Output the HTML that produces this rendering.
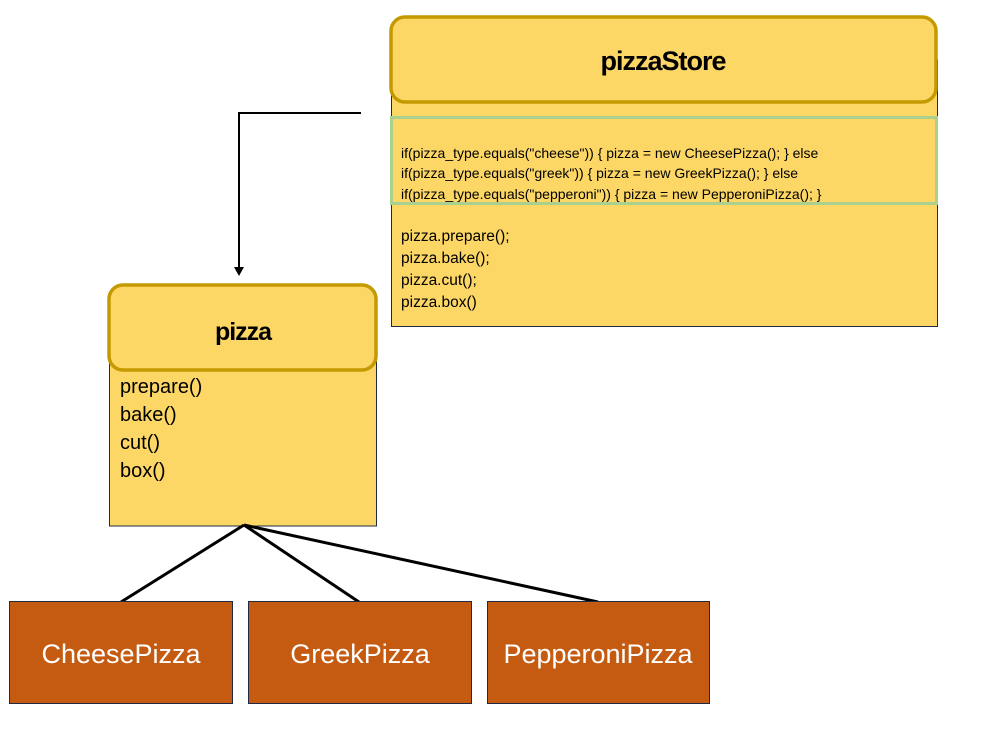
<!DOCTYPE html>
<html><head><style>body{margin:0;background:#fff}svg{display:block}text{font-family:"Liberation Sans","Noto Sans CJK KR",sans-serif}</style></head><body>
<svg width="984" height="743" viewBox="0 0 984 743">
<rect x="391.5" y="60" width="546" height="266.5" fill="#FDD766" stroke="#1F2A44" stroke-width="1"/>
<rect x="391" y="17" width="545" height="85" rx="14" fill="#FDD766" stroke="#C49A00" stroke-width="3.5"/>
<text x="663" y="70" font-size="27" font-weight="bold" text-anchor="middle" letter-spacing="-1">pizzaStore</text>
<rect x="391.5" y="117.5" width="545" height="86" fill="none" stroke="#A9D08E" stroke-width="3"/>
<g font-size="14" fill="#000">
<text x="401" y="158">if(pizza_type.equals("cheese")) { pizza = new CheesePizza(); } else</text>
<text x="401" y="178">if(pizza_type.equals("greek")) { pizza = new GreekPizza(); } else</text>
<text x="401" y="199">if(pizza_type.equals("pepperoni")) { pizza = new PepperoniPizza(); }</text>
</g>
<g font-size="15.5" fill="#000">
<text x="401" y="241">pizza.prepare();</text>
<text x="401" y="263">pizza.bake();</text>
<text x="401" y="285">pizza.cut();</text>
<text x="401" y="307">pizza.box()</text>
</g>
<path d="M361 113H239V268" fill="none" stroke="#000" stroke-width="2"/>
<path d="M234 267L244 267L239 276Z" fill="#000"/>
<rect x="109.5" y="330" width="267" height="196" fill="#FDD766" stroke="#1F2A44" stroke-width="1"/>
<rect x="109" y="285" width="267" height="85" rx="14" fill="#FDD766" stroke="#C49A00" stroke-width="3.5"/>
<text x="243" y="340" font-size="25" font-weight="bold" text-anchor="middle" letter-spacing="-1">pizza</text>
<g font-size="20" fill="#000">
<text x="120" y="393">prepare()</text>
<text x="120" y="421">bake()</text>
<text x="120" y="449">cut()</text>
<text x="120" y="477">box()</text>
</g>
<g stroke="#000" stroke-width="3" fill="none">
<path d="M244 525L121 602M244 525L359 602M244 525L598 602"/>
</g>
<g fill="#C55A11" stroke="#1F2A44" stroke-width="1">
<rect x="9.5" y="601.5" width="223" height="102"/>
<rect x="248.5" y="601.5" width="223" height="102"/>
<rect x="487.5" y="601.5" width="222" height="102"/>
</g>
<g font-size="27" fill="#fff" text-anchor="middle">
<text x="121" y="663">CheesePizza</text>
<text x="360" y="663">GreekPizza</text>
<text x="598" y="663">PepperoniPizza</text>
</g>
</svg>
</body></html>
